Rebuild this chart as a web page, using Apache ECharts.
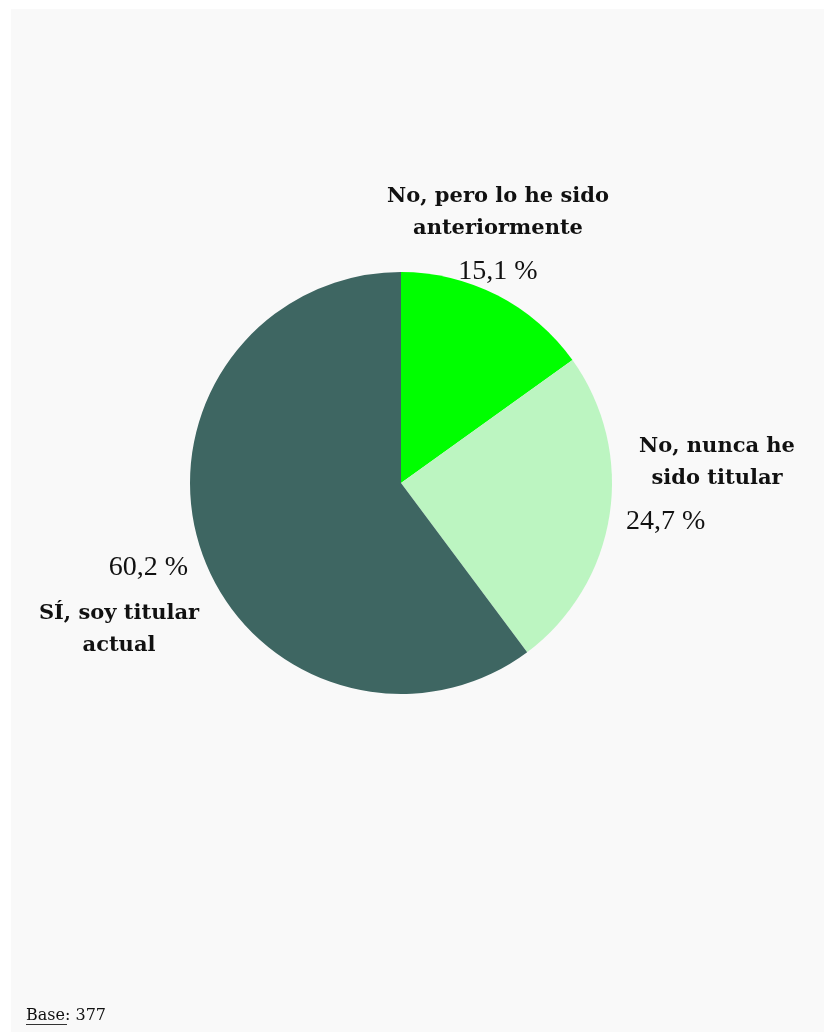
<!DOCTYPE html>
<html><head><meta charset="utf-8">
<script src="https://cdn.jsdelivr.net/npm/echarts@6/dist/echarts.min.js"></script>
<style>html,body{margin:0;padding:0;background:#fff}#c{width:824px;height:1032px}</style>
</head><body><div id="c"></div>
<script>
const categories = ["No, pero lo he sido\nanteriormente", "No, nunca he\nsido titular", "SÍ, soy titular\nactual"];
const values = [15.1, 24.7, 60.2];
const colors = ["#00ff00", "#bcf5c1", "#3e6662"];
const baseN = 377;

const fmt = v => v.toFixed(1).replace('.', ',') + ' %';
const serif = '"Liberation Serif", serif';
const serifB = '"DejaVu Serif", serif';

const labelCfg = [
  { fmt: (n, v) => `{n|${n}}\n{v|${v}}`, rich: { n: { align: 'center', lineHeight: 32 }, v: { align: 'center', lineHeight: 54 } }, width: 236, pos: { x: 498, y: 240, align: 'center' } },
  { fmt: (n, v) => `{n|${n}}\n{v|${v}}`, rich: { n: { align: 'center', lineHeight: 32 }, v: { align: 'left', lineHeight: 54 } }, width: 182, pos: { x: 626, y: 490, align: 'left' } },
  { fmt: (n, v) => `{v|${v}}\n{n|${n}}`, rich: { n: { align: 'center', lineHeight: 32 }, v: { align: 'right', lineHeight: 60, padding: [0, 16, 0, 0] } }, width: 170, pos: { x: 34, y: 600, align: 'left' } }
];

const chart = echarts.init(document.getElementById('c'), null, { renderer: 'canvas' });
chart.setOption({
  backgroundColor: '#ffffff',
  animation: false,
  graphic: [
    { type: 'rect', shape: { x: 11, y: 9, width: 813, height: 1023 }, style: { fill: '#f9f9f9' }, z: -10 },
    { type: 'text', left: 26, top: 1008, style: { text: 'Base: ' + baseN, font: '16px ' + serifB, fill: '#111' } },
    { type: 'line', shape: { x1: 26, y1: 1024.5, x2: 67, y2: 1024.5 }, style: { stroke: '#333', lineWidth: 1 } }
  ],
  series: [{
    type: 'pie',
    center: [401, 483],
    radius: 211,
    startAngle: 90,
    clockwise: true,
    labelLine: { show: false },
    emphasis: { disabled: true },
    labelLayout: function (p) { return labelCfg[p.dataIndex].pos; },
    data: categories.map((c, i) => ({
      name: c,
      value: values[i],
      itemStyle: { color: colors[i] },
      label: {
        show: true,
        position: 'outside',
        width: labelCfg[i].width,
        overflow: 'none',
        formatter: labelCfg[i].fmt(c, fmt(values[i])),
        rich: {
          n: Object.assign({ fontFamily: serifB, fontWeight: 'bold', fontSize: 21, color: '#111' }, labelCfg[i].rich.n),
          v: Object.assign({ fontFamily: serif, fontWeight: 'normal', fontSize: 28, color: '#111' }, labelCfg[i].rich.v)
        }
      }
    }))
  }]
});
</script></body></html>
